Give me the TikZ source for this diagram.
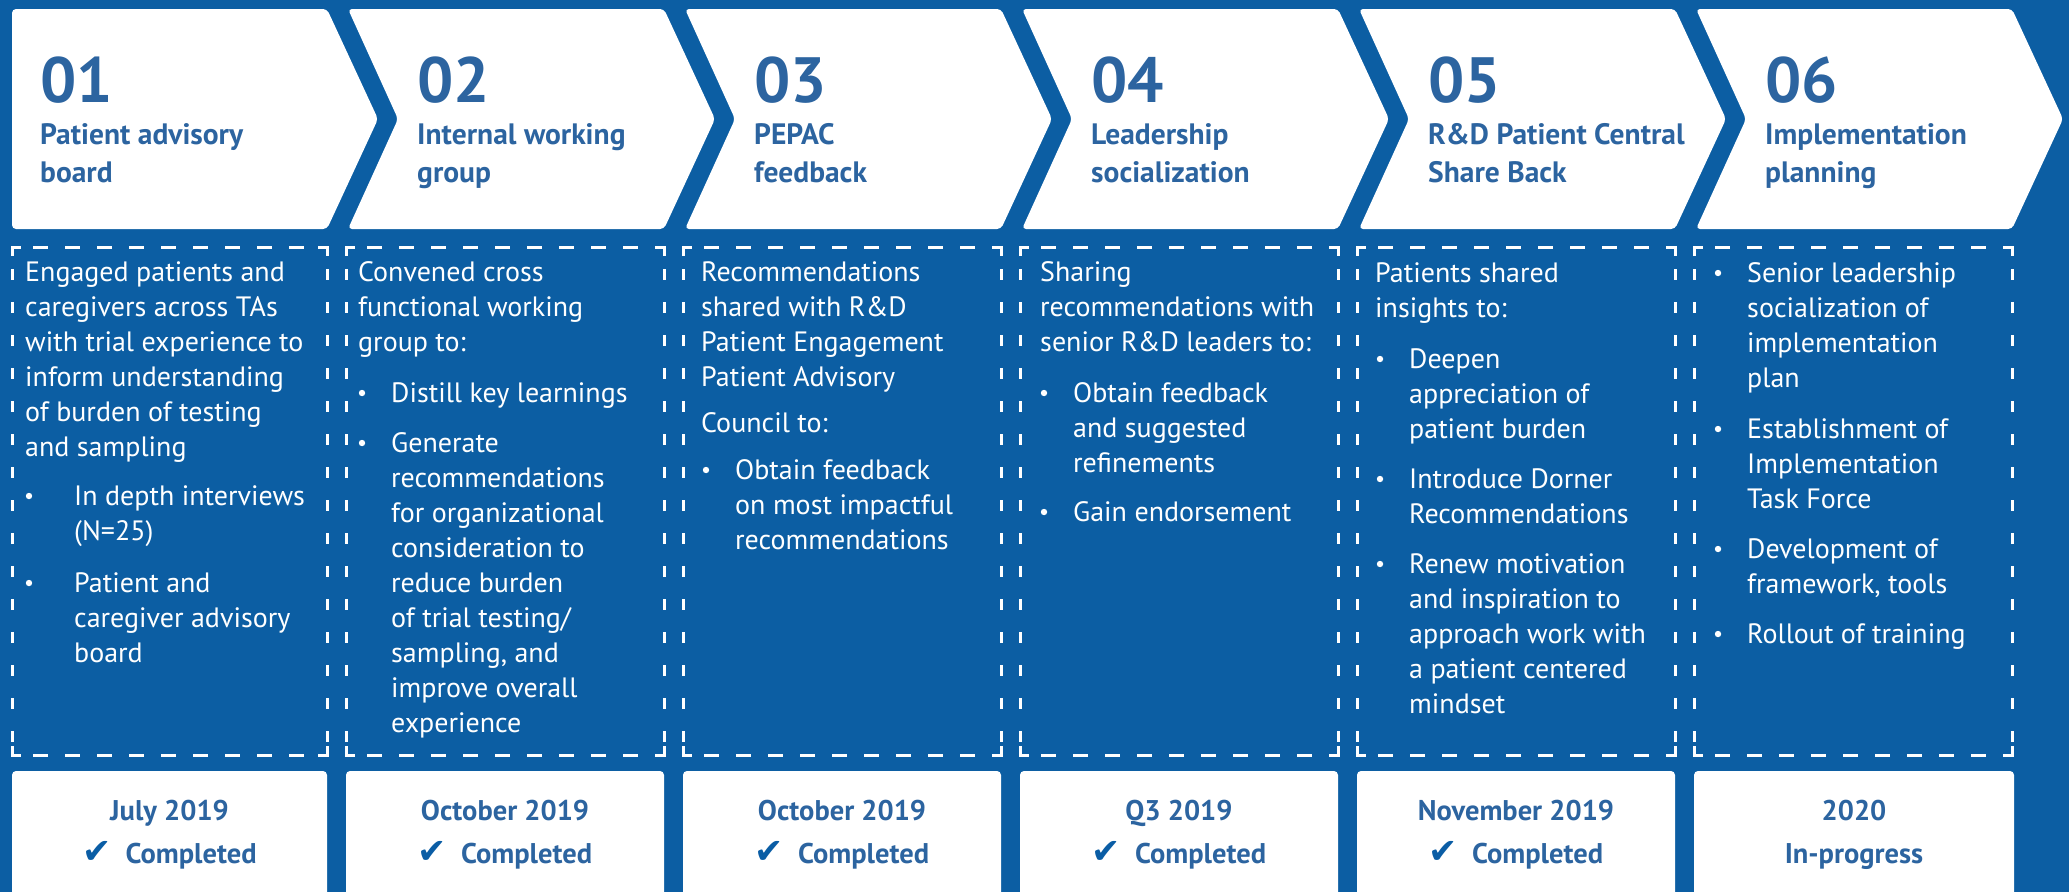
\documentclass[tikz,border=0pt]{standalone}
\usepackage{fontspec}
\setmainfont{PT Sans}
\newfontfamily\symfont{DejaVu Sans}

\definecolor{bgblue}{RGB}{12,94,163}
\definecolor{headblue}{RGB}{44,100,160}
\definecolor{tickblue}{RGB}{10,93,165}

% a block of lines whose base anchor is the first line's baseline
\newcommand{\lines}[1]{\parbox[t]{420pt}{\raggedright #1}}
% bullet item: dot + text block
\newcommand{\bul}[5]{%
  \fill[white] (#2,#4-9) circle (3.2pt);
  \node[body] (#1) at (#3,#4) {\lines{#5}};}
% dashed frame with L-shaped corners
\newcommand{\dashframe}[4]{%
  \draw[corner] (#1,#2+9) -- (#1,#2) -- (#1+9,#2);
  \draw[corner] (#3-9,#2) -- (#3,#2) -- (#3,#2+9);
  \draw[corner] (#1,#4-9) -- (#1,#4) -- (#1+9,#4);
  \draw[corner] (#3-9,#4) -- (#3,#4) -- (#3,#4-9);
  \draw[hdash] (#1+21,#2) -- (#3-12,#2);
  \draw[hdash] (#1+21,#4) -- (#3-12,#4);
  \draw[vdash] (#1,#2+22) -- (#1,#4-12);
  \draw[vdash] (#3,#2+22) -- (#3,#4-12);}

\tikzset{
  body/.style={anchor=base west, inner sep=0pt, text=white,
    font=\fontsize{28}{35}\selectfont},
  head/.style={anchor=base west, inner sep=0pt, text=headblue,
    font=\bfseries\fontsize{29.5}{38}\selectfont},
  num/.style={anchor=base west, inner sep=0pt, text=headblue,
    font=\bfseries\fontsize{64}{64}\selectfont},
  date/.style={anchor=base, inner sep=0pt, text=headblue,
    font=\bfseries\fontsize{28.5}{28}\selectfont},
  chev/.style={fill=white, rounded corners=4pt},
  card/.style={fill=white, rounded corners=4pt},
  corner/.style={draw=white, line width=3pt},
  hdash/.style={draw=white, line width=3pt, dash pattern=on 15pt off 17pt},
  vdash/.style={draw=white, line width=3pt, dash pattern=on 11pt off 22pt},
}

\newcommand{\done}{{\symfont\color{tickblue}\fontsize{35}{30}\selectfont ✔}\hspace{14pt}Completed}

\begin{document}
\begin{tikzpicture}[x=1pt,y=-1pt]
\useasboundingbox (0,0) rectangle (2069,892);
\fill[bgblue] (0,0) rectangle (2069,892);
\clip (0,0) rectangle (2069,892);

% ---- chevrons ----
\fill[chev] (12,9) -- (327,9) -- (378,119) -- (327,229) -- (12,229) -- cycle;
\fill[chev] (348,9) -- (664,9) -- (715,119) -- (664,229) -- (348,229) -- (398,119) -- cycle;
\fill[chev] (685,9) -- (1001,9) -- (1052,119) -- (1001,229) -- (685,229) -- (735,119) -- cycle;
\fill[chev] (1022,9) -- (1338,9) -- (1389,119) -- (1338,229) -- (1022,229) -- (1072,119) -- cycle;
\fill[chev] (1359,9) -- (1675,9) -- (1726,119) -- (1675,229) -- (1359,229) -- (1409,119) -- cycle;
\fill[chev] (1696,9) -- (2012,9) -- (2063,119) -- (2012,229) -- (1696,229) -- (1746,119) -- cycle;

% ---- step numbers and titles ----
\node[num] (n1) at (40,102) {01};
\node[num] (n2) at (417,102) {02};
\node[num] (n3) at (754,102) {03};
\node[num] (n4) at (1091,102) {04};
\node[num] (n5) at (1428,102) {05};
\node[num] (n6) at (1765,102) {06};
\node[head] (h1) at (40,144) {\lines{Patient advisory\\board}};
\node[head] (h2) at (417,144) {\lines{Internal working\\group}};
\node[head] (h3) at (754,144) {\lines{PEPAC\\feedback}};
\node[head] (h4) at (1091,144) {\lines{Leadership\\socialization}};
\node[head] (h5) at (1428,144) {\lines{R\&D Patient Central\\Share Back}};
\node[head] (h6) at (1765,144) {\lines{Implementation\\planning}};

% ---- dashed frames ----
\dashframe{12}{247}{327}{755}
\dashframe{346}{247}{664}{755}
\dashframe{683}{247}{1001}{755}
\dashframe{1020}{247}{1338}{755}
\dashframe{1357}{247}{1675}{755}
\dashframe{1694}{247}{2012}{755}

% ---- column 1 ----
\node[body] (p1) at (25,281) {\lines{Engaged patients and\\caregivers across TAs\\with trial experience to\\inform understanding\\of burden of testing\\and sampling}};
\bul{b11}{29}{74}{505}{In depth interviews\\(N=25)}
\bul{b12}{29}{74}{592}{Patient and\\caregiver advisory\\board}

% ---- column 2 ----
\node[body] (p2) at (358,281) {\lines{Convened cross\\functional working\\group to:}};
\bul{b21}{362}{391}{402}{Distill key learnings}
\bul{b22}{362}{391}{452}{Generate\\recommendations\\for organizational\\consideration to\\reduce burden\\of trial testing/\\sampling, and\\improve overall\\experience}

% ---- column 3 ----
\node[body] (p3) at (701,281) {\lines{Recommendations\\shared with R\&D\\Patient Engagement\\Patient Advisory}};
\node[body] (p3b) at (701,432) {\lines{Council to:}};
\bul{b31}{706}{735}{479}{Obtain feedback\\on most impactful\\recommendations}

% ---- column 4 ----
\node[body] (p4) at (1040,281) {\lines{Sharing\\recommendations with\\senior R\&D leaders to:}};
\bul{b41}{1044}{1073}{402}{Obtain feedback\\and suggested\\refinements}
\bul{b42}{1044}{1073}{521}{Gain endorsement}

% ---- column 5 ----
\node[body] (p5) at (1375,282) {\lines{Patients shared\\insights to:}};
\bul{b51}{1380}{1409}{368}{Deepen\\appreciation of\\patient burden}
\bul{b52}{1380}{1409}{488}{Introduce Dorner\\Recommendations}
\bul{b53}{1380}{1409}{573}{Renew motivation\\and inspiration to\\approach work with\\a patient centered\\mindset}

% ---- column 6 ----
\bul{b61}{1718}{1747}{282}{Senior leadership\\socialization of\\implementation\\plan}
\bul{b62}{1718}{1747}{438}{Establishment of\\Implementation\\Task Force}
\bul{b63}{1718}{1747}{558}{Development of\\framework, tools}
\bul{b64}{1718}{1747}{643}{Rollout of training}

% ---- status cards ----
\fill[card] (12,771) rectangle (327,910);
\fill[card] (346,771) rectangle (664,910);
\fill[card] (683,771) rectangle (1001,910);
\fill[card] (1020,771) rectangle (1338,910);
\fill[card] (1357,771) rectangle (1675,910);
\fill[card] (1694,771) rectangle (2014,910);

\node[date] (d1) at (169.5,820) {July 2019};
\node[date] (d2) at (505,820) {October 2019};
\node[date] (d3) at (842,820) {October 2019};
\node[date] (d4) at (1179,820) {Q3 2019};
\node[date] (d5) at (1516,820) {November 2019};
\node[date] (d6) at (1854,820) {2020};
\node[date] (s1) at (169.5,863) {\done};
\node[date] (s2) at (505,863) {\done};
\node[date] (s3) at (842,863) {\done};
\node[date] (s4) at (1179,863) {\done};
\node[date] (s5) at (1516,863) {\done};
\node[date] (s6) at (1854,863) {In-progress};
\end{tikzpicture}
\end{document}
